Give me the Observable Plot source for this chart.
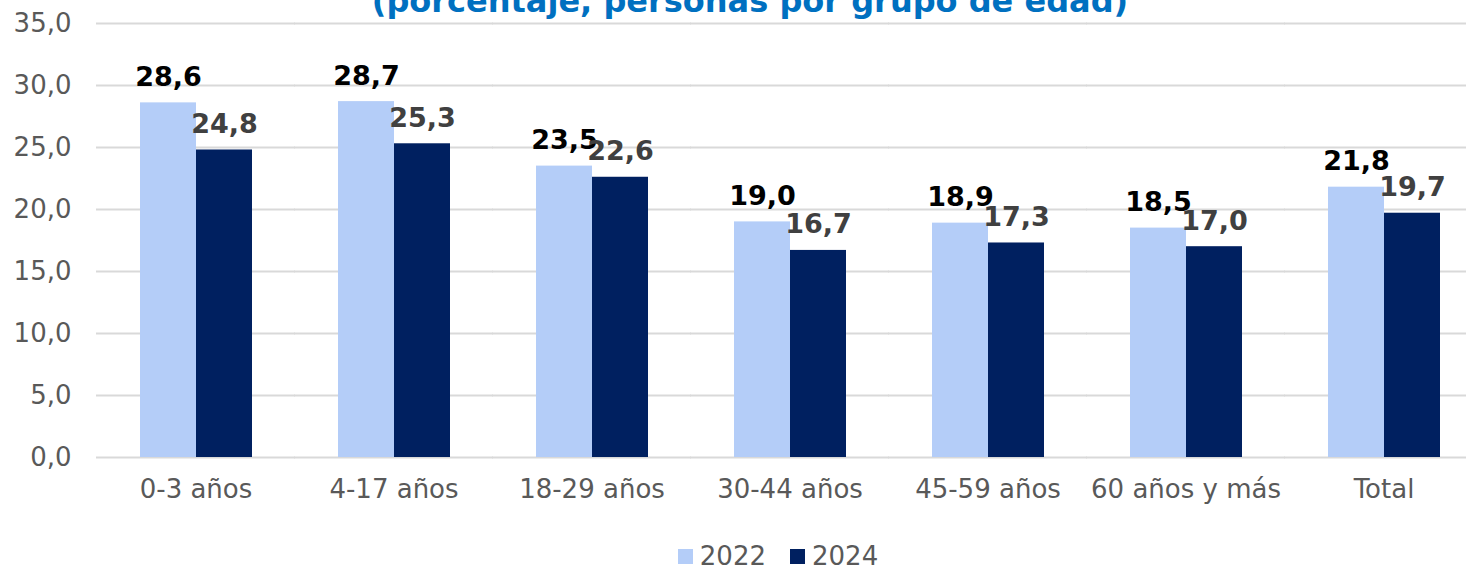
<!DOCTYPE html>
<html><head><meta charset="utf-8">
<script src="https://cdn.jsdelivr.net/npm/d3@7"></script>
<script src="https://cdn.jsdelivr.net/npm/@observablehq/plot@0.6"></script>
<style>
html,body{margin:0;padding:0;background:#fff;overflow:hidden;width:1466px;height:567px;}
body{position:relative;font-family:"DejaVu Sans",Verdana,sans-serif;}
#chart svg{max-width:none !important;}
#title{position:absolute;top:-14px;left:0;width:1500px;text-align:center;font-weight:bold;font-size:32px;line-height:30px;color:#0070C0;white-space:nowrap;}
#legend{position:absolute;top:542px;left:0;width:1466px;display:flex;justify-content:center;align-items:center;padding-left:90px;box-sizing:border-box;font-size:26px;line-height:28px;color:#595959;}
#legend span.sw{display:inline-block;width:15px;height:15px;margin-right:7px;}
#legend .item{display:flex;align-items:center;margin:0 12px;}
</style></head>
<body>
<div id="chart"></div>
<div id="title">(porcentaje, personas por grupo de edad)</div>
<div id="legend"></div>
<script>
const categories = ["0-3 años","4-17 años","18-29 años","30-44 años","45-59 años","60 años y más","Total"];
const years = ["2022","2024"];
const values2022 = [28.6,28.7,23.5,19.0,18.9,18.5,21.8];
const values2024 = [24.8,25.3,22.6,16.7,17.3,17.0,19.7];
const yTicks = [0,5,10,15,20,25,30,35];
const colors = ["#B4CDF8","#002060"];
const labelColors = ["#000000","#404040"];

const data = [];
categories.forEach((c,i)=>{
  data.push({cat:c, year:years[0], value:values2022[i]});
  data.push({cat:c, year:years[1], value:values2024[i]});
});
const fmt = v => v.toFixed(1).replace(".", ",");

const chart = Plot.plot({
  width: 1482,
  height: 525,
  marginTop: 23,
  marginBottom: 68,
  marginLeft: 96,
  marginRight: 0,
  style: {fontFamily: '"DejaVu Sans", Verdana, sans-serif', background: "#fff", maxWidth: "none"},
  fx: {domain: categories, paddingInner: 0.43, paddingOuter: 0.215, label: null},
  x: {domain: years, padding: 0, axis: null},
  y: {domain: [0,35], axis: null},
  color: {domain: years, range: colors},
  marks: [
    Plot.ruleY(yTicks, {stroke: "#D9D9D9", strokeWidth: 2, insetLeft: -43, insetRight: -43}),
    Plot.barY(data, {fx: "cat", x: "year", y: "value", fill: "year"}),
    Plot.text(data.filter(d=>d.year===years[0]), {fx: "cat", x: "year", y: "value", text: d=>fmt(d.value), lineAnchor: "bottom", dy: -17, fontSize: 27, fontWeight: "bold", fill: labelColors[0]}),
    Plot.text(data.filter(d=>d.year===years[1]), {fx: "cat", x: "year", y: "value", text: d=>fmt(d.value), lineAnchor: "bottom", dy: -17, fontSize: 27, fontWeight: "bold", fill: labelColors[1]}),
    Plot.axisY(yTicks, {anchor: "left", tickSize: 0, tickPadding: 68, tickFormat: fmt, fontSize: 26, color: "#595959", label: null}),
    Plot.axisFx({anchor: "bottom", tickSize: 0, tickPadding: 22, fontSize: 26, color: "#595959", label: null})
  ]
});
chart.style.maxWidth = "none";
document.getElementById("chart").appendChild(chart);

const legend = document.getElementById("legend");
years.forEach((y,i)=>{
  const it = document.createElement("div"); it.className="item";
  const sw = document.createElement("span"); sw.className="sw"; sw.style.background=colors[i];
  it.appendChild(sw); it.appendChild(document.createTextNode(y));
  legend.appendChild(it);
});
</script>
</body></html>
